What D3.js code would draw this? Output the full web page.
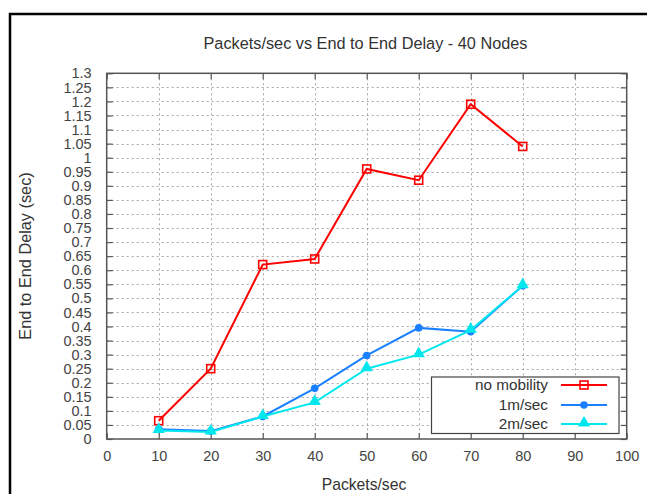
<!DOCTYPE html>
<html>
<head>
<meta charset="utf-8">
<script src="https://cdn.jsdelivr.net/npm/d3@7"></script>
<style>
  html, body { margin: 0; padding: 0; background: #fff; }
  svg { display: block; font-family: "Liberation Sans", Arial, sans-serif; }
</style>
</head>
<body>
<svg id="chart" width="647" height="494"></svg>
<script>
// Packet rate on the x axis
const packetRates = [10, 20, 30, 40, 50, 60, 70, 80];

// End-to-end delay (seconds) for each mobility setting
const noMobility = [0.065, 0.25, 0.62, 0.64, 0.96, 0.92, 1.19, 1.04];
const oneMps     = [0.035, 0.028, 0.08, 0.18, 0.297, 0.395, 0.381, 0.545];
const twoMps     = [0.03, 0.025, 0.08, 0.13, 0.25, 0.30, 0.387, 0.545];

const seriesNames = ["no mobility", "1m/sec", "2m/sec"];

// Axis ticks
const xTickValues = [0, 10, 20, 30, 40, 50, 60, 70, 80, 90, 100];
const yTickValues = [0, 0.05, 0.1, 0.15, 0.2, 0.25, 0.3, 0.35, 0.4, 0.45, 0.5, 0.55, 0.6,
                     0.65, 0.7, 0.75, 0.8, 0.85, 0.9, 0.95, 1, 1.05, 1.1, 1.15, 1.2, 1.25, 1.3];
const yTickLabels = ["0", "0.05", "0.1", "0.15", "0.2", "0.25", "0.3", "0.35", "0.4", "0.45", "0.5",
                     "0.55", "0.6", "0.65", "0.7", "0.75", "0.8", "0.85", "0.9", "0.95", "1",
                     "1.05", "1.1", "1.15", "1.2", "1.25", "1.3"];

const title = "Packets/sec vs End to End Delay - 40 Nodes";
const xTitle = "Packets/sec";
const yTitle = "End to End Delay (sec)";

const svg = d3.select("#chart");

// outer frame
svg.append("path")
  .attr("d", "M10,500 L10,14 L660,14")
  .attr("fill", "none").attr("stroke", "#000").attr("stroke-width", 2.5);

const plot = { left: 106.7, right: 626.7, top: 73.3, bottom: 439 };

const x = d3.scaleLinear().domain([0, 100]).range([plot.left, plot.right]);
const y = d3.scaleLinear().domain([0, 1.3]).range([plot.bottom, plot.top]);

// grid
const grid = svg.append("g").attr("stroke", "#a8a8a8").attr("stroke-width", 1)
  .attr("stroke-dasharray", "2,3");
grid.selectAll("line.gx").data(xTickValues.filter(v => v > 0 && v < 100)).join("line")
  .attr("x1", d => Math.round(x(d)) + 0.5).attr("x2", d => Math.round(x(d)) + 0.5)
  .attr("y1", plot.top).attr("y2", plot.bottom);
grid.selectAll("line.gy").data(yTickValues.filter(v => v > 0 && v < 1.3)).join("line")
  .attr("y1", d => Math.round(y(d)) + 0.5).attr("y2", d => Math.round(y(d)) + 0.5)
  .attr("x1", plot.left).attr("x2", plot.right);

// axes (inward ticks on all four sides)
const axisColor = "#555";
const tickLen = 6;
const tickFmt = d => yTickLabels[yTickValues.indexOf(d)];

const gLeft = svg.append("g").attr("transform", `translate(${plot.left},0)`)
  .call(d3.axisLeft(y).tickValues(yTickValues).tickFormat(tickFmt).tickSizeInner(-tickLen).tickSizeOuter(0).tickPadding(15));
const gRight = svg.append("g").attr("transform", `translate(${plot.right},0)`)
  .call(d3.axisRight(y).tickValues(yTickValues).tickFormat("").tickSizeInner(-tickLen).tickSizeOuter(0));
const gBottom = svg.append("g").attr("transform", `translate(0,${plot.bottom})`)
  .call(d3.axisBottom(x).tickValues(xTickValues).tickFormat(d3.format("d")).tickSizeInner(-tickLen).tickSizeOuter(0).tickPadding(12));
const gTop = svg.append("g").attr("transform", `translate(0,${plot.top})`)
  .call(d3.axisTop(x).tickValues(xTickValues).tickFormat("").tickSizeInner(-tickLen).tickSizeOuter(0));

[gLeft, gRight, gBottom, gTop].forEach(g => {
  g.select(".domain").remove();
  g.selectAll(".tick line").attr("stroke", axisColor).attr("stroke-width", 1.2);
  g.selectAll("text").attr("fill", "#444").attr("font-size", 14.5)
    .attr("font-family", "'Liberation Sans', Arial, sans-serif");
});

svg.append("rect")
  .attr("x", plot.left).attr("y", plot.top)
  .attr("width", plot.right - plot.left).attr("height", plot.bottom - plot.top)
  .attr("fill", "none").attr("stroke", axisColor).attr("stroke-width", 1.5);

// titles
svg.append("text").attr("x", 365.5).attr("y", 49).attr("text-anchor", "middle")
  .attr("font-size", 16.3).attr("fill", "#333").text(title);
svg.append("text").attr("x", 364).attr("y", 490).attr("text-anchor", "middle")
  .attr("font-size", 15.7).attr("fill", "#333").text(xTitle);
svg.append("text").attr("transform", "translate(31,256) rotate(-90)").attr("text-anchor", "middle")
  .attr("font-size", 16.3).attr("fill", "#333").text(yTitle);

// series
const series = [
  { name: seriesNames[0], values: noMobility, color: "#ff0000", marker: "square" },
  { name: seriesNames[1], values: oneMps,     color: "#1a80ff", marker: "circle" },
  { name: seriesNames[2], values: twoMps,     color: "#00e8ee", marker: "triangle" }
];

const line = d3.line().x((d, i) => x(packetRates[i])).y(d => y(d));

function drawMarker(g, type, color) {
  if (type === "square") {
    g.append("rect").attr("x", -4).attr("y", -4).attr("width", 8).attr("height", 8)
      .attr("fill", "none").attr("stroke", color).attr("stroke-width", 1.6);
  } else if (type === "circle") {
    g.append("circle").attr("r", 3.8).attr("fill", color);
  } else {
    g.append("path").attr("d", d3.symbol(d3.symbolTriangle, 65)()).attr("fill", color)
      .attr("transform", "translate(0,-1)");
  }
}

series.forEach(s => {
  svg.append("path").datum(s.values).attr("d", line)
    .attr("fill", "none").attr("stroke", s.color).attr("stroke-width", 2);
  s.values.forEach((v, i) => {
    const g = svg.append("g").attr("transform", `translate(${x(packetRates[i])},${y(v)})`);
    drawMarker(g, s.marker, s.color);
  });
});

// legend
const legend = svg.append("g");
legend.append("rect").attr("x", 431.5).attr("y", 377).attr("width", 187.5).attr("height", 56.5)
  .attr("fill", "#fff").attr("stroke", "#444").attr("stroke-width", 1.2);
const rowY = [385, 405, 424];
series.forEach((s, i) => {
  legend.append("text").attr("x", 548).attr("y", rowY[i]).attr("dy", "0.35em")
    .attr("text-anchor", "end").attr("font-size", 15.3).attr("fill", "#333").text(s.name);
  legend.append("line").attr("x1", 561).attr("x2", 607).attr("y1", rowY[i]).attr("y2", rowY[i])
    .attr("stroke", s.color).attr("stroke-width", 2);
  const g = legend.append("g").attr("transform", `translate(584,${rowY[i]})`);
  drawMarker(g, s.marker, s.color);
});
</script>
</body>
</html>
